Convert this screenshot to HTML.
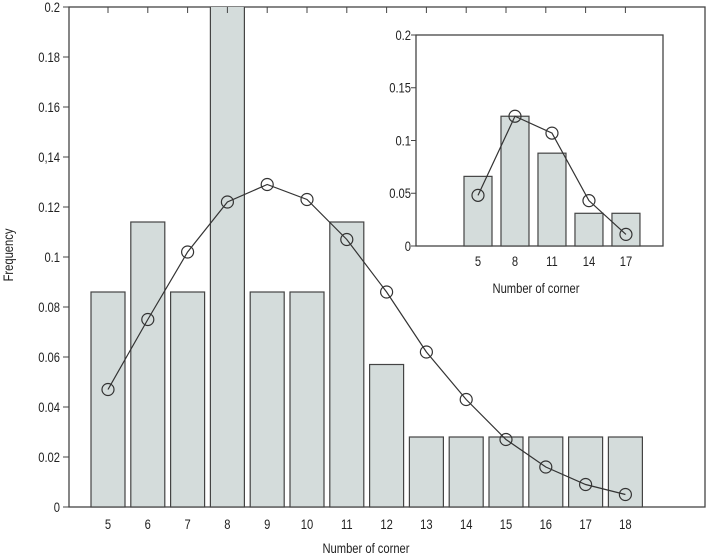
<!DOCTYPE html>
<html><head><meta charset="utf-8"><style>
html,body{margin:0;padding:0;background:#fff;}
svg{display:block;font-family:"Liberation Sans",sans-serif;}
text{fill:#222;}
</style></head><body>
<svg id="chart" width="707" height="559" viewBox="0 0 707 559">
<defs><clipPath id="mainclip"><rect x="69" y="7" width="636" height="501"/></clipPath></defs>
<g id="main"></g>
<g id="inset"></g>
</svg>
<script>
const categories = [5,6,7,8,9,10,11,12,13,14,15,16,17,18];
const barValues = [0.086,0.114,0.086,0.21,0.086,0.086,0.114,0.057,0.028,0.028,0.028,0.028,0.028,0.028];
const lineValues = [0.047,0.075,0.102,0.122,0.129,0.123,0.107,0.086,0.062,0.043,0.027,0.016,0.009,0.005];
const yTicks = [0,0.02,0.04,0.06,0.08,0.1,0.12,0.14,0.16,0.18,0.2];
const yTickLabels = ["0","0.02","0.04","0.06","0.08","0.1","0.12","0,14","0.16","0.18","0.2"];
const insetCategories = [5,8,11,14,17];
const insetBarValues = [0.066,0.123,0.088,0.031,0.031];
const insetLineValues = [0.048,0.123,0.107,0.043,0.011];
const insetYTicks = [0,0.05,0.1,0.15,0.2];
const insetYTickLabels = ["0","0.05","0.1","0.15","0.2"];

const NS="http://www.w3.org/2000/svg";
function mk(parent,tag,attrs,txt){const e=document.createElementNS(NS,tag);for(const k in attrs)e.setAttribute(k,attrs[k]);if(txt!==undefined)e.textContent=txt;parent.appendChild(e);return e;}
const BAR="#d4dcdb",STROKE="#444";

// main
const main=document.getElementById('main');
const mx=v=>108+(v-5)*39.8;
const my=v=>507-v*2500;
const frame=mk(main,'rect',{x:69,y:7,width:636,height:500,fill:'none',stroke:STROKE,'stroke-width':1.3});


const bars=mk(main,'g',{'clip-path':'url(#mainclip)'});
categories.forEach((c,i)=>{
  const r=mk(bars,'rect',{x:mx(c)-17,y:my(barValues[i]),width:34,height:my(0)-my(barValues[i]),fill:BAR,stroke:STROKE,'stroke-width':1.2});
  
  
});
yTicks.forEach((t,i)=>{
  mk(main,'line',{x1:63,x2:69,y1:my(t),y2:my(t),stroke:STROKE});
  const tx=mk(main,'text',{x:60,y:my(t)+5,'text-anchor':'end','font-size':14,transform:`translate(60 0) scale(0.8 1) translate(-60 0)`},yTickLabels[i]);
  
  
});
categories.forEach(c=>{
  mk(main,'line',{x1:mx(c),x2:mx(c),y1:7,y2:13,stroke:STROKE});
  const tx=mk(main,'text',{x:mx(c),y:529,'text-anchor':'middle','font-size':14,transform:`translate(${mx(c)} 0) scale(0.8 1) translate(${-mx(c)} 0)`},String(c));
  
  
});
const pl=mk(main,'polyline',{points:categories.map((c,i)=>mx(c)+','+my(lineValues[i])).join(' '),fill:'none',stroke:'#333','stroke-width':1.2});


categories.forEach((c,i)=>{
  const p=mk(main,'circle',{cx:mx(c),cy:my(lineValues[i]),r:6,fill:'none',stroke:'#333','stroke-width':1.2});
  
  
});
const xt=mk(main,'text',{x:366,y:553,'text-anchor':'middle','font-size':14,transform:'translate(366 0) scale(0.8 1) translate(-366 0)'},'Number of corner');


const yt=mk(main,'text',{x:0,y:0,'text-anchor':'middle','font-size':14,transform:'translate(13 255) rotate(-90) scale(0.8 1)'},'Frequency');



// inset
const ins=document.getElementById('inset');
const ix=v=>478+(v-5)*12.33;
const iy=v=>246-v*1055;
const bg=mk(ins,'rect',{x:416,y:35,width:247,height:211,fill:'#fff',stroke:STROKE,'stroke-width':1.3});


insetCategories.forEach((c,i)=>{
  const r=mk(ins,'rect',{x:ix(c)-14,y:iy(insetBarValues[i]),width:28,height:iy(0)-iy(insetBarValues[i]),fill:BAR,stroke:STROKE,'stroke-width':1.2});
  
  
  const tx=mk(ins,'text',{x:ix(c),y:266,'text-anchor':'middle','font-size':14,transform:`translate(${ix(c)} 0) scale(0.8 1) translate(${-ix(c)} 0)`},String(c));
  
  
});
insetYTicks.forEach((t,i)=>{
  mk(ins,'line',{x1:411,x2:416,y1:iy(t),y2:iy(t),stroke:STROKE});
  const tx=mk(ins,'text',{x:411,y:iy(t)+5,'text-anchor':'end','font-size':14,transform:'translate(411 0) scale(0.8 1) translate(-411 0)'},insetYTickLabels[i]);
  
  
});
const ipl=mk(ins,'polyline',{points:insetCategories.map((c,i)=>ix(c)+','+iy(insetLineValues[i])).join(' '),fill:'none',stroke:'#333','stroke-width':1.2});


insetCategories.forEach((c,i)=>{
  const p=mk(ins,'circle',{cx:ix(c),cy:iy(insetLineValues[i]),r:6,fill:'none',stroke:'#333','stroke-width':1.2});
  
  
});
const ixt=mk(ins,'text',{x:536,y:293,'text-anchor':'middle','font-size':14,transform:'translate(536 0) scale(0.8 1) translate(-536 0)'},'Number of corner');


</script>
</body></html>
